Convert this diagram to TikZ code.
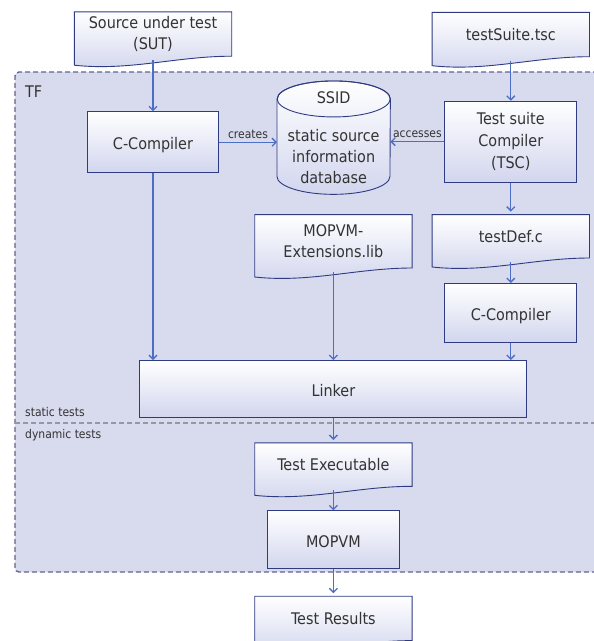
\documentclass[tikz,border=0pt]{standalone}
\usepackage{fontspec}
\setmainfont{DejaVu Sans Condensed}
\usetikzlibrary{positioning,arrows.meta,backgrounds}

\definecolor{tfback}{RGB}{216,218,238}
\definecolor{tfline}{RGB}{96,100,145}
\definecolor{boxline}{RGB}{46,58,130}
\definecolor{boxshade}{RGB}{210,214,238}
\definecolor{arrowblue}{RGB}{76,110,196}
\definecolor{divgray}{RGB}{150,150,165}
\definecolor{textgray}{RGB}{51,51,51}

% document shape behind a node (drawn 3pt higher than the node)
\newcommand{\docshape}[1]{%
  \begin{scope}[on background layer, yshift=3pt]
    \shadedraw[top color=white, bottom color=boxshade, draw=boxline, line width=0.9pt]
      (#1.north west) -- (#1.north east) -- (#1.south east)
      .. controls +(-55pt,0pt) and +(55pt,-6pt) .. ([yshift=-9pt]#1.south west)
      -- cycle;
  \end{scope}}

% database cylinder behind a node
\newcommand{\dbshape}[1]{%
  \begin{scope}[on background layer]
    \shadedraw[top color=white, bottom color=boxshade, draw=boxline, line width=0.9pt]
      ([yshift=-18pt]#1.north west) -- ([yshift=18pt]#1.south west)
      arc[start angle=180, end angle=360, x radius=56.5pt, y radius=18pt]
      -- ([yshift=-18pt]#1.north east)
      arc[start angle=0, end angle=180, x radius=56.5pt, y radius=18pt] -- cycle;
    \draw[boxline, line width=0.9pt] ([yshift=-18pt]#1.north) ellipse [x radius=56.5pt, y radius=18pt];
  \end{scope}}

\begin{document}
\begin{tikzpicture}[
    x=1pt, y=1pt,
    font=\fontsize{16}{21}\selectfont, text=textgray,
    box/.style={draw=boxline, line width=0.9pt, top color=white, bottom color=boxshade, align=center, inner sep=0pt},
    oneline/.style={text height=15pt, text depth=0pt},
    doc/.style={minimum width=157pt, align=center, inner sep=0pt},
    conn/.style={draw=arrowblue, line width=1.3pt, -{Straight Barb[length=4pt,width=8pt]}},
    small/.style={font=\fontsize{12}{14}\selectfont},
]
    \useasboundingbox (0,0) rectangle (594,-641);

    % Test framework region
    \coordinate (split) at (0,-423);
    \coordinate (tfnw) at (15,-72);
    \coordinate (tfse) at (630,-572);
    \begin{scope}[on background layer]
        \clip (0,0) rectangle (594,-641);
        \fill[tfback, rounded corners=4pt] (tfnw) rectangle (tfse);
        \draw[tfline, line width=1.4pt, dash pattern=on 5pt off 3pt, rounded corners=4pt]
            (tfse |- tfnw) -- (tfnw) -- (tfnw |- tfse) -- (tfse);
        \draw[divgray, line width=2pt, dash pattern=on 5pt off 3pt] (tfnw |- split) -- (tfse |- split);
    \end{scope}
    \node[anchor=base west, inner sep=0pt] (tflabel) at (25,-97) {TF};
    \node[small, anchor=base west, inner sep=0pt] (static) at (25,-416) {static tests};
    \node[small, anchor=base west, inner sep=0pt] (dynamic) at (25,-438) {dynamic tests};

    % Inputs
    \node[doc, minimum height=44pt] (sut) at (153,-34) {Source under test\\(SUT)};
    \node[box, oneline, minimum width=131pt, minimum height=61pt, below=55pt of sut] (cc1) {C-Compiler};
    \node[inner sep=0pt, minimum width=113pt, minimum height=113pt, align=center, right=58pt of cc1, yshift=4.5pt] (ssid)
        {SSID\\[17pt]static source\\information\\database};
    \node[box, minimum width=132pt, minimum height=81pt, right=54pt of ssid, yshift=-4pt] (tsc) {Test suite\\[1pt]Compiler\\[1pt](TSC)};
    \node[doc, minimum height=44pt, above=44pt of tsc] (suite) {testSuite.tsc};

    % Static part
    \node[doc, minimum height=43pt, below=32pt of tsc] (testdef) {testDef.c};
    \node[box, oneline, minimum width=132pt, minimum height=59pt, below=25pt of testdef] (cc2) {C-Compiler};
    \node[doc, minimum height=53pt, left=20pt of testdef.north west, anchor=north east] (mopext) {MOPVM-\\Extensions.lib};
    \node[box, oneline, minimum width=387pt, minimum height=57pt, below=92pt of mopext] (linker) {Linker};

    % Dynamic part
    \node[doc, minimum height=43pt, below=25pt of linker] (testexe) {Test Executable};
    \node[box, oneline, minimum width=132pt, minimum height=58pt, below=24pt of testexe] (mopvm) {MOPVM};
    \node[doc, minimum height=44pt, below=27pt of mopvm] (results) {Test Results};

    % Shapes
    \docshape{sut}
    \docshape{suite}
    \docshape{testdef}
    \docshape{mopext}
    \docshape{testexe}
    \docshape{results}
    \dbshape{ssid}

    % Arrows
    \draw[conn, shorten <=4pt] (sut) -- (cc1);
    \draw[conn, shorten <=4pt] (suite) -- (tsc);
    \draw[conn] (cc1.east) -- (cc1.east -| ssid.west) node[small, midway, above] {creates};
    \draw[conn] (tsc.west) -- (tsc.west -| ssid.east) node[small, midway, above] {accesses};
    \draw[conn, shorten >=3pt] (tsc) -- (testdef);
    \draw[conn, shorten <=4pt] (testdef) -- (cc2);
    \draw[conn] (cc1) -- (cc1 |- linker.north);
    \draw[conn, shorten <=4pt] (mopext) -- (linker);
    \draw[conn] (cc2) -- (cc2 |- linker.north);
    \draw[conn, shorten >=3pt] (linker) -- (testexe);
    \draw[conn, shorten <=4pt] (testexe) -- (mopvm);
    \draw[conn, shorten >=3pt] (mopvm) -- (results);
\end{tikzpicture}
\end{document}
